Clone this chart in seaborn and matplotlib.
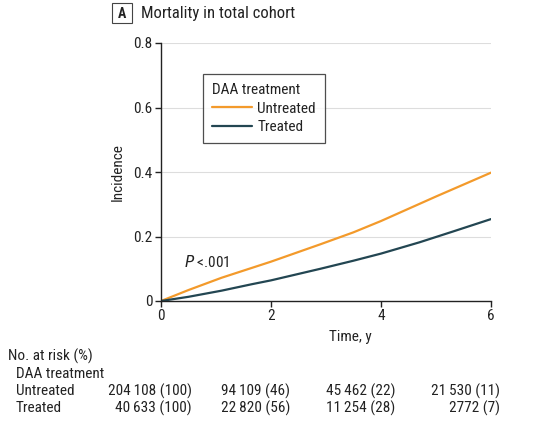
import matplotlib
matplotlib.use("Agg")
import matplotlib.pyplot as plt
import seaborn as sns
import pandas as pd
from matplotlib.patches import Rectangle

sns.set_theme(style="white")
plt.rcParams['font.family'] = ['Roboto Condensed', 'Source Sans 3', 'Lato', 'DejaVu Sans']

# data
time_untreated = [0, 0.5, 1.1, 2.0, 2.9, 3.5, 4.0, 4.5, 5.0, 5.5, 6.0]
inc_untreated = [0, 0.034, 0.072, 0.122, 0.176, 0.213, 0.248, 0.286, 0.324, 0.361, 0.398]
time_treated = [0, 0.5, 1.1, 1.65, 2.0, 2.9, 3.5, 4.0, 4.7, 5.3, 6.0]
inc_treated = [0, 0.013, 0.032, 0.052, 0.064, 0.100, 0.125, 0.147, 0.182, 0.215, 0.254]
groups = ["Untreated", "Treated"]
risk_untreated = ["204\u2009108 (100)", "94\u2009109 (46)", "45\u2009462 (22)", "21\u2009530 (11)"]
risk_treated = ["40\u2009633 (100)", "22\u2009820 (56)", "11\u2009254 (28)", "2772 (7)"]
x_ticks = [0, 2, 4, 6]
y_ticks = [0, 0.2, 0.4, 0.6, 0.8]
y_ticklabels = ["0", "0.2", "0.4", "0.6", "0.8"]

df = pd.concat([
    pd.DataFrame({"Time": time_untreated, "Incidence": inc_untreated, "DAA treatment": "Untreated"}),
    pd.DataFrame({"Time": time_treated, "Incidence": inc_treated, "DAA treatment": "Treated"}),
])

colors = {"Untreated": "#F39A2B", "Treated": "#234652"}
tc = "#222222"
fs = 11

fig = plt.figure(figsize=(5.48, 4.32), dpi=100)
ax = fig.add_axes([161/548, 1-301/432, 330/548, 258/432])
sns.lineplot(data=df, x="Time", y="Incidence", hue="DAA treatment", hue_order=groups,
             palette=colors, linewidth=1.6, ax=ax, estimator=None)

ax.set_xlim(0, 6)
ax.set_ylim(0, 0.8)
ax.set_xticks(x_ticks)
ax.set_xticklabels([str(t) for t in x_ticks], fontsize=fs, color=tc)
ax.set_yticks(y_ticks)
ax.set_yticklabels(y_ticklabels, fontsize=fs, color=tc)
for y in y_ticks[1:]:
    ax.axhline(y, color="#dddddd", linewidth=0.8, zorder=0)
for s in ["top", "right"]:
    ax.spines[s].set_visible(False)
for s in ["left", "bottom"]:
    ax.spines[s].set_color(tc)
    ax.spines[s].set_linewidth(1.0)
ax.tick_params(axis="both", direction="out", length=4, width=1, color=tc, pad=2,
               left=True, bottom=True)
ax.set_xlabel("Time, y", fontsize=fs, color=tc, labelpad=5, x=0.573)
ax.set_ylabel("Incidence", fontsize=fs, color=tc, labelpad=6)

leg = ax.legend(title="DAA treatment", loc="upper left", bbox_to_anchor=(0.128, 0.88),
                frameon=True, fancybox=False, fontsize=fs, title_fontsize=fs,
                handlelength=2.6, handletextpad=0.35, borderpad=0.6, labelspacing=0.3,
                borderaxespad=0)
leg.get_frame().set_edgecolor(tc)
leg.get_frame().set_linewidth(0.9)
leg._legend_box.align = "left"
for t in leg.get_texts():
    t.set_color(tc)
leg.get_title().set_color(tc)

ax.text(0.42, 0.12, r"$\it{P}$ <.001", fontsize=fs, color=tc, va="center", ha="left")

# title
fig.add_artist(Rectangle((112/548, 1-23/432), 20/548, 20/432, transform=fig.transFigure,
                         fill=False, edgecolor="#444444", linewidth=0.8))
fig.text(122/548, 1-13.5/432, "A", fontsize=10, fontweight="bold", ha="center", va="center", color=tc)
fig.text(141/548, 1-13.5/432, "Mortality in total cohort", fontsize=12, ha="left", va="center", color=tc)

# risk table
fig.text(8/548, 1-356/432, "No. at risk (%)", fontsize=fs, va="center", color=tc)
fig.text(16/548, 1-374/432, "DAA treatment", fontsize=fs, va="center", color=tc)
fig.text(16/548, 1-391/432, "Untreated", fontsize=fs, va="center", color=tc)
fig.text(16/548, 1-408/432, "Treated", fontsize=fs, va="center", color=tc)
col_right = [192, 290, 395, 500]
for xr, a, b in zip(col_right, risk_untreated, risk_treated):
    fig.text(xr/548, 1-391/432, a, fontsize=fs, va="center", ha="right", color=tc)
    fig.text(xr/548, 1-408/432, b, fontsize=fs, va="center", ha="right", color=tc)

fig.savefig("out.png", dpi=100)
